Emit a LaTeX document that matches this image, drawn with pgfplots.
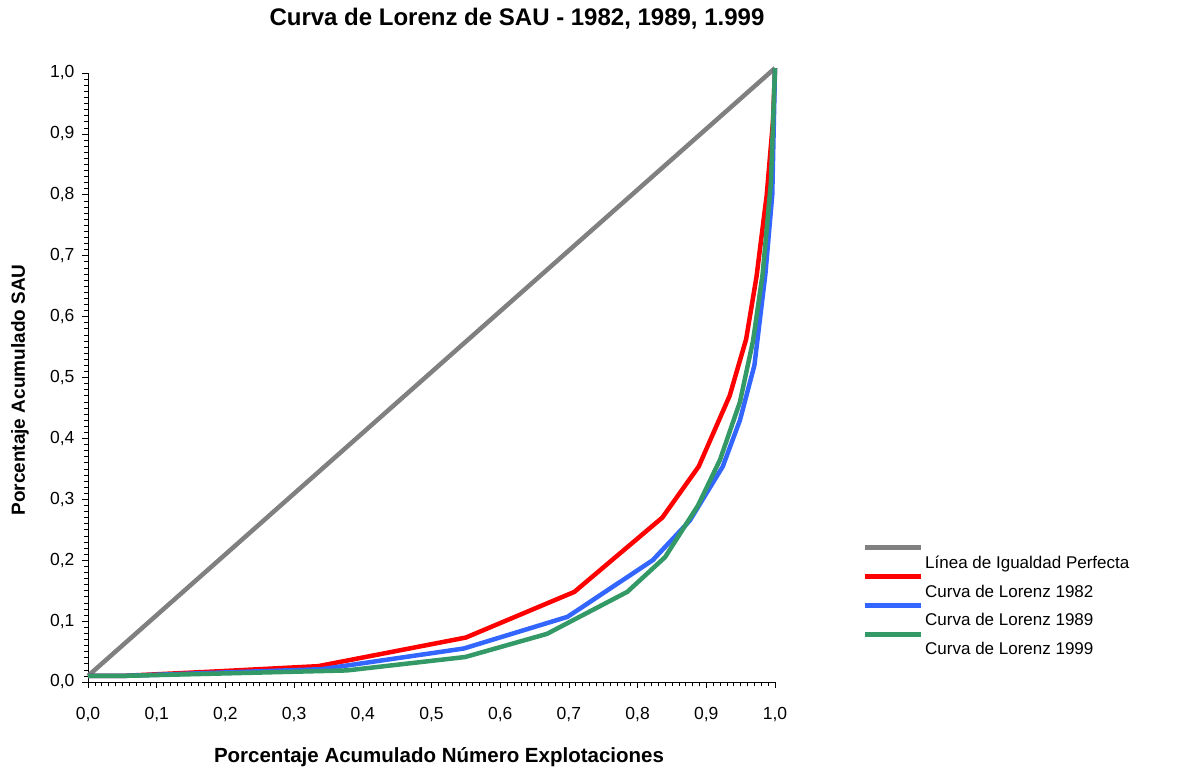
\documentclass[border=0pt]{standalone}
\usepackage{pgfplots}
\pgfplotsset{compat=1.18}
\usepackage{fontspec}
\setmainfont{Liberation Sans}

\definecolor{igualdad}{RGB}{128,128,128}
\definecolor{l1982}{RGB}{255,0,0}
\definecolor{l1989}{RGB}{51,102,255}
\definecolor{l1999}{RGB}{51,153,102}

\begin{document}
\begin{tikzpicture}
\path[use as bounding box] (0pt,0pt) rectangle (1186pt,774pt);

\begin{axis}[
  at={(88pt,92pt)}, anchor=south west,
  scale only axis, width=687pt, height=609pt,
  xmin=0, xmax=1, ymin=0, ymax=1,
  axis x line*=bottom, axis y line*=left,
  axis line style={black, line width=0.8pt},
  xtick={0,0.1,...,1.0}, ytick={0,0.1,...,1.0},
  minor tick num=9,
  tick align=outside,
  major tick length=6pt, minor tick length=4pt,
  every tick/.style={black, line width=0.6pt},
  tick label style={font=\fontsize{17.5}{20}\selectfont},
  /pgf/number format/.cd, fixed, fixed zerofill, precision=1, use comma, assume math mode=true,
  /pgfplots/.cd,
  xticklabel style={yshift=-15.5pt},
  yticklabel style={xshift=-4pt},
  clip=false,
  legend style={at={(1.131,0.211)}, anchor=north west, draw=none, fill=none,
    font=\fontsize{17}{20}\selectfont, row sep=11pt, inner sep=0pt,
    /tikz/every odd column/.style={column sep=2pt}},
  legend cell align=left,
  legend image code/.code={\path[draw=none, fill=none] (0pt,0pt) rectangle (56pt,0pt);
    \draw[#1, overlay] (0pt,15pt) -- (56pt,15pt);},
  every axis plot/.append style={line width=4.5pt, line join=round},
]
\addplot[igualdad] coordinates {(0,0.01) (1,1.008)};
\addlegendentry{Línea de Igualdad Perfecta}
\addplot[l1982] coordinates {
(0,0.01) (0.05,0.01) (0.18,0.017) (0.335,0.026) (0.55,0.073) (0.708,0.148)
(0.836,0.27) (0.889,0.354) (0.934,0.47) (0.958,0.563) (0.973,0.665)
(0.988,0.8) (0.997,0.92) (1.0,1.008)};
\addlegendentry{Curva de Lorenz 1982}
\addplot[l1989] coordinates {
(0,0.01) (0.05,0.01) (0.34,0.021) (0.547,0.055) (0.698,0.107) (0.822,0.2)
(0.876,0.265) (0.924,0.354) (0.949,0.43) (0.970,0.52) (0.986,0.67)
(0.996,0.8) (1.0,1.008)};
\addlegendentry{Curva de Lorenz 1989}
\addplot[l1999] coordinates {
(0,0.01) (0.05,0.01) (0.377,0.019) (0.549,0.041) (0.668,0.079) (0.785,0.148)
(0.84,0.205) (0.888,0.29) (0.92,0.365) (0.949,0.46) (0.968,0.56)
(0.982,0.67) (0.994,0.82) (1.0,1.008)};
\addlegendentry{Curva de Lorenz 1999}
\end{axis}

\node[font=\bfseries\fontsize{24}{28}\selectfont] at (517pt,755pt) {Curva de Lorenz de SAU - 1982, 1989, 1.999};
\node[font=\bfseries\fontsize{20.5}{24}\selectfont] at (439pt,17pt) {Porcentaje Acumulado Número Explotaciones};
\node[font=\bfseries\fontsize{19}{22}\selectfont, rotate=90] at (20pt,384pt) {Porcentaje Acumulado SAU};
\end{tikzpicture}
\end{document}
